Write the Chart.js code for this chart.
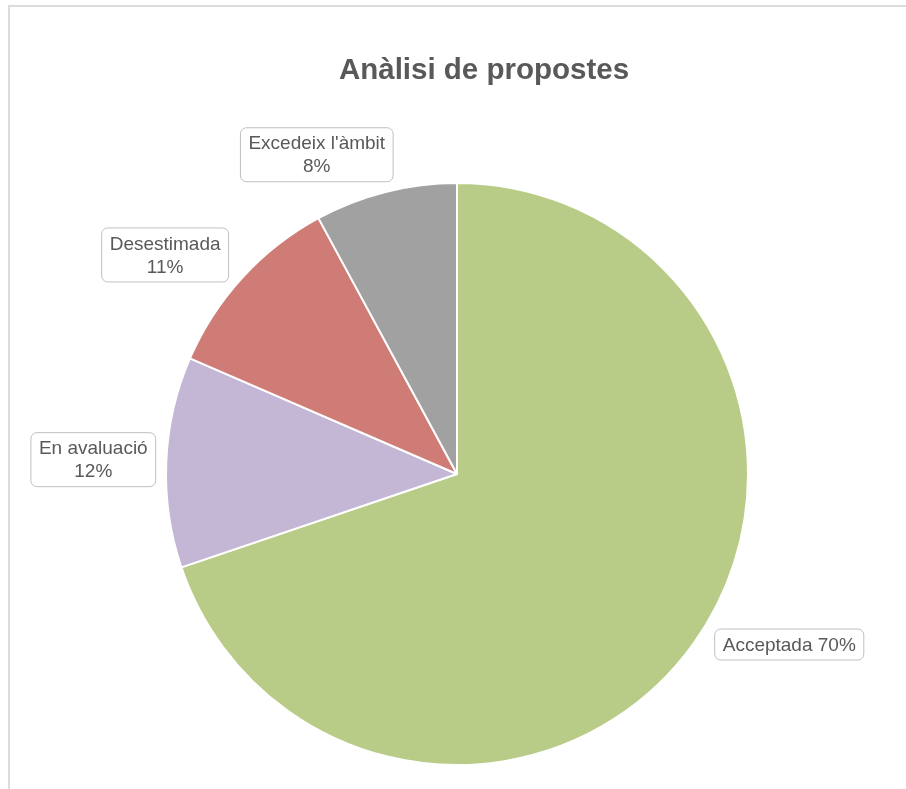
<!DOCTYPE html>
<html lang="ca">
<head>
    <meta charset="UTF-8">
    <title>Anàlisi de propostes</title>
    <script src="https://cdn.jsdelivr.net/npm/chart.js"></script>
    <style>
        body {
            margin: 0;
            padding: 0;
            background-color: #ffffff;
            overflow: hidden;
        }

        .frame {
            position: absolute;
            left: 8px;
            top: 5px;
            width: 1000px;
            height: 900px;
            border-top: 2px solid #dcdcdc;
            border-left: 2px solid #dcdcdc;
        }

        .chart-container {
            position: absolute;
            left: 0;
            top: 0;
            width: 906px;
            height: 789px;
        }
    </style>
</head>
<body>
    <div class="frame"></div>
    <div class="chart-container">
        <canvas id="pieChart"></canvas>
    </div>

    <script>
        // Data
        const categories = ["Acceptada", "En avaluació", "Desestimada", "Excedeix l'àmbit"];
        const values = [69.8, 11.7, 10.6, 7.9];
        const colors = ['#b8cc88', '#c3b7d5', '#cf7c77', '#a1a1a1'];

        // Label layout (not data): one-line labels and nudges from the slice direction
        const oneLine = [true, false, false, false];
        const nudges = [[47, -34], [-13, 0], [-33, 18], [-54, 21]];

        const total = values.reduce((a, b) => a + b, 0);

        // Draws the title and the boxed data labels
        const labelPlugin = {
            id: 'boxLabels',
            afterDatasetsDraw(chart) {
                const ctx = chart.ctx;
                ctx.save();

                // title
                ctx.fillStyle = '#595959';
                ctx.font = 'bold 29.5px "Liberation Sans", Arial, sans-serif';
                ctx.textAlign = 'center';
                ctx.textBaseline = 'middle';
                ctx.fillText('Anàlisi de propostes', 484, 71);

                const meta = chart.getDatasetMeta(0);
                ctx.font = '19px "Liberation Sans", Arial, sans-serif';
                meta.data.forEach((arc, i) => {
                    const p = arc.getProps(['x', 'y', 'startAngle', 'endAngle', 'outerRadius'], true);
                    const mid = (p.startAngle + p.endAngle) / 2;
                    const dist = p.outerRadius + 60;
                    const cx = p.x + Math.cos(mid) * dist + nudges[i][0];
                    const cy = p.y + Math.sin(mid) * dist + nudges[i][1];

                    const pct = Math.round(values[i] / total * 100) + '%';
                    const lines = oneLine[i] ? [categories[i] + ' ' + pct] : [categories[i], pct];
                    const lineH = 23;
                    const w = Math.max(...lines.map(l => ctx.measureText(l).width)) + 16;
                    const h = lines.length * lineH + 8;

                    ctx.beginPath();
                    ctx.roundRect(cx - w / 2, cy - h / 2, w, h, 6);
                    ctx.fillStyle = '#ffffff';
                    ctx.fill();
                    ctx.lineWidth = 1;
                    ctx.strokeStyle = '#bfbfbf';
                    ctx.stroke();

                    ctx.fillStyle = '#595959';
                    lines.forEach((l, k) => {
                        ctx.fillText(l, cx, cy + (k - (lines.length - 1) / 2) * lineH + 1);
                    });
                });
                ctx.restore();
            }
        };

        const ctx = document.getElementById('pieChart').getContext('2d');
        const chart = new Chart(ctx, {
            type: 'pie',
            data: {
                labels: categories,
                datasets: [{
                    data: values,
                    backgroundColor: colors,
                    borderColor: '#ffffff',
                    borderWidth: 2
                }]
            },
            options: {
                responsive: true,
                maintainAspectRatio: false,
                animation: false,
                layout: {
                    padding: { left: 165, right: 157, top: 182, bottom: 23 }
                },
                plugins: {
                    legend: { display: false },
                    tooltip: { enabled: false }
                }
            },
            plugins: [labelPlugin]
        });
    </script>
</body>
</html>
